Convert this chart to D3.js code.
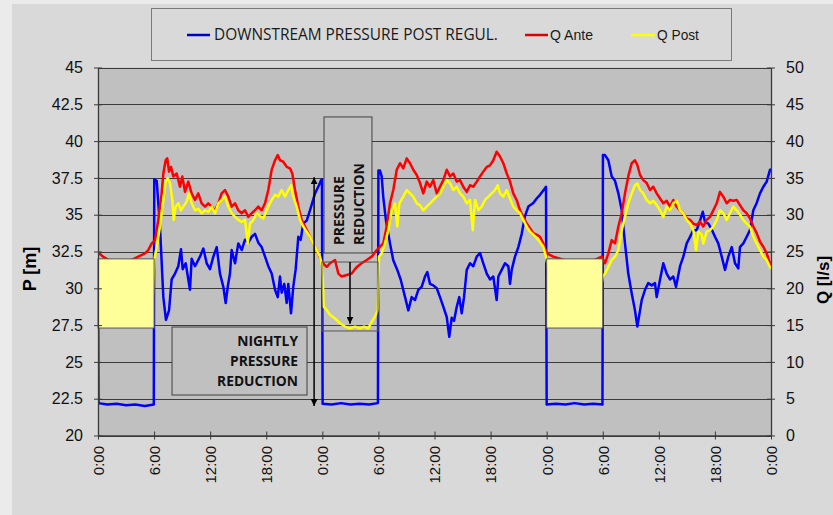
<!DOCTYPE html>
<html><head><meta charset="utf-8">
<script src="https://cdn.jsdelivr.net/npm/d3@7"></script>
<style>body{margin:0;background:#ebebeb;}svg{display:block;}</style>
</head><body>
<svg id="chart" width="833" height="515"></svg>
<script>
// ---------------- DATA ----------------
const xTickHours = [0,6,12,18,24,30,36,42,48,54,60,66,72];
const xTickLabels = ["0:00","6:00","12:00","18:00","0:00","6:00","12:00","18:00","0:00","6:00","12:00","18:00","0:00"];
const leftTicks = [20,22.5,25,27.5,30,32.5,35,37.5,40,42.5,45];
const rightTicks = [0,5,10,15,20,25,30,35,40,45,50];
const seriesNames = ["DOWNSTREAM PRESSURE POST REGUL.","Q Ante","Q Post"];
// [hour, P m]
const pressure = [[0,31.5],[0.05,22.2],[1,22.1],[2,22.15],[3,22.05],[4,22.1],[5,22.0],[5.97,22.1],
[6.02,37.4],[6.28,37.3],[6.63,34.2],[6.99,29.4],[7.27,27.85],[7.60,28.5],[7.88,30.6],[8.24,31.0],[8.59,31.5],[8.88,32.65],[9.06,31.3],[9.38,31.7],[9.84,29.9],[10.02,32.0],[10.38,31.5],[10.91,32.15],[11.27,32.7],[11.63,31.7],[11.98,31.3],[12.34,32.15],[12.70,32.8],[13.05,31.0],[13.41,30.1],[13.66,29.0],[13.88,30.1],[14.12,31.0],[14.30,32.6],[14.66,31.7],[15.01,33.05],[15.37,32.6],[15.73,33.3],[16.08,33.1],[16.44,33.5],[16.80,33.7],[17.15,33.1],[17.51,32.8],[17.87,32.15],[18.22,31.5],[18.58,31.0],[18.94,29.9],[19.23,29.4],[19.47,30.8],[19.65,29.7],[19.93,30.3],[20.19,29.0],[20.36,30.3],[20.65,28.3],[20.89,30.1],[21.15,31.3],[21.43,33.5],[21.68,33.3],[21.96,34.4],[22.33,34.6],[22.68,35.3],[23.22,36.45],[23.64,37.0],[23.86,37.35],[23.96,37.4],
[24.03,22.15],[25,22.1],[26,22.2],[27,22.1],[28,22.15],[29,22.1],[29.95,22.2],
[30.0,38.0],[30.17,38.0],[30.35,37.6],[30.52,36.2],[30.81,34.6],[31.24,33.05],[31.59,31.9],[32.02,31.25],[32.38,30.6],[32.85,29.4],[33.20,28.5],[33.56,29.4],[33.91,29.2],[34.27,29.9],[34.63,30.1],[34.98,30.8],[35.23,31.1],[35.52,30.3],[35.87,30.2],[36.24,30.0],[36.59,29.4],[36.94,28.75],[37.31,28.05],[37.58,26.7],[37.84,28.0],[38.09,27.8],[38.38,28.75],[38.65,29.4],[38.91,28.3],[39.16,29.4],[39.45,31.25],[39.80,31.7],[40.15,31.5],[40.52,32.15],[40.87,32.4],[41.22,31.7],[41.59,31.0],[41.94,30.6],[42.29,30.8],[42.65,29.2],[42.83,30.8],[43.19,31.25],[43.54,31.7],[43.90,31.5],[44.08,30.3],[44.26,31.25],[44.61,32.15],[44.97,32.8],[45.33,33.7],[45.68,34.9],[46.04,35.55],[46.57,35.8],[46.93,36.1],[47.29,36.35],[47.82,36.8],[47.93,36.9],
[48.0,22.1],[49,22.15],[50,22.1],[51,22.2],[52,22.1],[53,22.15],[53.97,22.1],
[54.02,39.05],[54.24,39.05],[54.60,38.7],[54.96,37.6],[55.31,37.3],[55.67,36.45],[56.03,35.3],[56.38,33.05],[56.73,31.0],[57.10,29.65],[57.45,28.5],[57.70,27.4],[57.99,28.5],[58.17,29.2],[58.52,29.9],[58.87,30.35],[59.24,30.2],[59.59,30.35],[59.77,29.4],[60.13,30.6],[60.48,31.7],[60.84,31.0],[61.19,30.6],[61.55,30.8],[61.84,30.1],[62.27,31.5],[62.62,32.15],[62.98,33.05],[63.34,33.5],[63.69,33.95],[64.05,33.95],[64.41,34.6],[64.70,35.2],[64.94,34.5],[65.30,34.4],[65.66,34.0],[66.01,33.5],[66.36,33.05],[66.73,32.15],[67.08,31.25],[67.43,32.15],[67.80,32.8],[68.15,31.7],[68.50,31.35],[68.68,32.8],[69.04,33.05],[69.40,33.5],[69.75,33.95],[70.11,35.3],[70.47,35.8],[70.82,36.45],[71.18,36.9],[71.54,37.25],[71.89,38.04],[72,38.1]];
// [hour, Q l/s]
const qAnte = [[0,24.9],[0.27,24.6],[0.53,24.3],[1.5,23.6],[3,23.5],[4.31,24.3],[5.03,24.75],[5.38,25.2],[5.75,26.1],[6.10,26.55],[6.45,29.3],[6.81,32.9],[6.99,35.6],[7.24,37.4],[7.41,37.65],[7.60,35.85],[7.81,36.5],[8.06,35.2],[8.42,35.6],[8.77,33.8],[9.02,35.2],[9.31,33.1],[9.66,34.5],[10.02,32.9],[10.38,32.0],[10.73,32.9],[11.09,31.55],[11.45,31.1],[11.80,31.55],[12.16,31.1],[12.52,30.6],[12.87,31.55],[13.23,32.9],[13.59,33.35],[13.94,32.45],[14.30,31.1],[14.66,31.55],[15.01,30.6],[15.37,30.2],[15.73,30.6],[16.08,29.7],[16.44,30.2],[16.80,30.6],[17.15,31.1],[17.51,30.6],[17.87,31.55],[18.22,33.35],[18.58,36.1],[18.94,37.4],[19.23,38.1],[19.47,37.4],[19.82,37.2],[20.19,36.5],[20.54,36.3],[20.79,35.6],[21.08,33.35],[21.43,31.1],[21.79,29.3],[22.15,28.4],[22.50,27.5],[22.86,26.55],[23.22,25.65],[23.57,24.75],[23.93,23.6],[24.47,22.9],[24.82,23.4],[25.36,23.85],[25.71,22.0],[26.07,21.6],[26.61,21.8],[27.14,22.0],[27.68,22.9],[28.21,23.4],[28.75,23.85],[29.28,24.3],[29.82,25.2],[30.17,25.65],[30.52,26.1],[30.89,28.4],[31.24,31.55],[31.59,33.35],[31.96,36.1],[32.31,37.0],[32.66,36.3],[33.03,37.65],[33.38,37.0],[33.73,36.1],[34.10,35.4],[34.45,34.3],[34.80,32.9],[35.17,34.5],[35.52,33.8],[35.87,34.7],[36.24,32.9],[36.59,33.8],[36.94,34.7],[37.31,36.1],[37.66,35.2],[38.01,35.6],[38.38,34.5],[38.73,34.7],[39.08,33.8],[39.45,33.1],[39.80,34.0],[40.15,33.8],[40.52,34.5],[40.87,35.2],[41.22,35.85],[41.59,36.5],[41.94,36.7],[42.29,37.4],[42.65,38.55],[43.01,37.9],[43.36,37.0],[43.73,35.6],[44.08,34.5],[44.43,32.9],[44.79,32.0],[45.15,30.6],[45.50,29.7],[45.86,28.8],[46.22,28.15],[46.57,27.5],[46.93,27.3],[47.29,27.0],[47.64,26.1],[48.01,24.75],[48.71,24.3],[49.25,24.1],[50.5,23.6],[52.5,23.5],[53.89,24.3],[54.24,23.4],[54.60,24.75],[54.96,26.55],[55.31,26.1],[55.67,28.4],[56.03,30.2],[56.38,32.9],[56.73,35.2],[57.10,37.0],[57.45,37.4],[57.70,36.75],[57.99,35.4],[58.34,34.7],[58.70,34.3],[59.06,33.35],[59.41,33.8],[59.77,32.9],[60.13,32.2],[60.48,31.55],[60.84,31.9],[61.19,31.1],[61.55,32.0],[61.91,31.1],[62.27,30.6],[62.62,30.2],[62.98,29.5],[63.34,29.3],[63.69,28.8],[64.05,28.6],[64.41,29.05],[64.76,28.4],[65.12,29.3],[65.48,29.7],[65.83,30.6],[66.19,31.55],[66.54,33.1],[66.90,32.45],[67.26,31.55],[67.61,32.0],[67.97,31.9],[68.33,32.0],[68.68,31.3],[69.04,30.6],[69.40,30.2],[69.75,29.5],[70.11,28.4],[70.47,27.5],[70.82,26.35],[71.18,25.65],[71.54,24.75],[71.89,23.4],[72,23.2]];
const qPost = [[0,19.5],[0.5,18.0],[1.5,16.5],[3,15.3],[4.5,15.4],[5.8,16.8],[6.02,23.85],[6.28,25.65],[6.63,28.4],[6.99,32.0],[7.24,34.5],[7.46,34.95],[7.70,34.3],[7.95,32.0],[8.10,29.3],[8.31,31.1],[8.59,31.55],[8.88,30.6],[9.13,31.1],[9.49,31.8],[9.74,32.9],[10.02,31.55],[10.38,30.6],[10.73,30.8],[11.09,30.2],[11.45,30.6],[11.80,30.4],[12.16,31.1],[12.52,30.2],[12.87,31.55],[13.23,32.0],[13.59,32.45],[13.94,31.1],[14.30,30.2],[14.66,29.7],[15.01,29.3],[15.37,29.0],[15.73,29.3],[16.02,26.1],[16.26,28.8],[16.62,29.3],[16.98,30.2],[17.33,29.8],[17.69,29.5],[18.22,31.1],[18.58,32.0],[18.94,32.7],[19.29,32.45],[19.65,33.35],[20.01,32.45],[20.36,33.35],[20.65,34.0],[20.89,32.45],[21.26,31.1],[21.61,29.3],[21.96,28.4],[22.33,27.7],[22.68,27.0],[23.03,26.1],[23.40,25.2],[23.75,24.3],[24.00,22.9],[24.15,17.5],[24.47,17.05],[24.82,16.4],[25.36,15.9],[25.89,15.25],[26.43,14.8],[26.96,14.55],[27.50,14.8],[28.03,14.55],[28.46,14.8],[28.92,14.55],[29.28,15.45],[29.63,16.15],[29.92,17.05],[30.06,24.3],[30.35,24.75],[30.70,26.1],[31.06,27.9],[31.42,30.6],[31.78,31.55],[32.02,28.4],[32.24,31.55],[32.66,32.45],[33.03,33.35],[33.38,32.9],[33.73,32.45],[34.10,31.55],[34.45,31.3],[34.80,30.6],[35.17,31.1],[35.52,31.55],[35.87,32.0],[36.24,32.45],[36.59,32.9],[36.94,33.8],[37.31,34.7],[37.66,34.25],[38.01,33.35],[38.38,33.8],[38.73,32.9],[39.08,32.45],[39.45,31.55],[39.80,32.0],[40.09,27.9],[40.34,32.0],[40.70,30.6],[41.05,31.1],[41.41,32.0],[41.77,32.45],[42.12,32.9],[42.47,33.35],[42.76,34.0],[43.01,32.9],[43.36,32.45],[43.73,33.35],[44.08,32.2],[44.43,31.1],[44.79,30.6],[45.15,30.2],[45.50,29.3],[45.86,28.4],[46.22,27.7],[46.57,27.3],[46.93,26.8],[47.29,26.3],[47.64,25.65],[47.93,24.3],[48.5,20.5],[49.5,18.5],[51,17.0],[52.5,17.5],[53.8,20.0],[54.00,21.6],[54.24,22.0],[54.60,22.9],[54.96,23.85],[55.31,24.3],[55.67,25.2],[56.03,27.9],[56.38,29.7],[56.73,31.55],[57.10,32.9],[57.45,34.0],[57.70,34.25],[57.99,33.35],[58.34,32.9],[58.70,32.0],[59.06,31.55],[59.41,31.9],[59.77,31.3],[60.13,30.6],[60.48,29.7],[60.84,31.1],[61.19,30.6],[61.55,31.55],[61.91,31.9],[62.27,30.6],[62.62,30.2],[62.98,29.3],[63.34,28.8],[63.69,27.9],[63.98,25.2],[64.23,27.7],[64.59,27.3],[64.76,26.1],[65.12,27.7],[65.48,27.9],[65.83,28.4],[66.19,29.3],[66.54,30.6],[66.90,30.2],[67.26,29.3],[67.61,30.2],[67.97,31.1],[68.33,30.6],[68.68,30.0],[69.04,29.3],[69.40,28.8],[69.75,28.4],[70.11,27.0],[70.47,26.1],[70.82,25.2],[71.18,24.3],[71.54,23.85],[71.89,22.9],[72,22.6]];
// night windows [startHour, endHour] highlighted, P range [low, high]
const nightBoxes = [[0,6],[48,54]];
const nightBoxP = [27.3,32.0];

// ---------------- LAYOUT ----------------
const svg = d3.select("#chart");
const L = 98, R = 771, T = 67.5, B = 435.5;
const x = d3.scaleLinear().domain([0,72]).range([L,R]);
const yL = d3.scaleLinear().domain([20,45]).range([B,T]);
const yR = d3.scaleLinear().domain([0,50]).range([B,T]);
const axisColor = "#3a3a3a";
const tickFont = "'Liberation Sans', Arial, sans-serif";

svg.append("rect").attr("x",12).attr("y",4).attr("width",821).attr("height",511).attr("fill","#d9d9d9");
svg.append("rect").attr("x",L).attr("y",T).attr("width",R-L).attr("height",B-T).attr("fill","#c0c0c0");

// gridlines
svg.append("g").selectAll("line").data(leftTicks).join("line")
  .attr("x1",L).attr("x2",R)
  .attr("y1",d=>Math.round(yL(d))+0.5).attr("y2",d=>Math.round(yL(d))+0.5)
  .attr("stroke","#3c3c3c").attr("stroke-width",1);

// clip
svg.append("clipPath").attr("id","plotclip").append("rect")
  .attr("x",L).attr("y",T).attr("width",R-L).attr("height",B-T);

const lineP = d3.line().x(d=>x(d[0])).y(d=>yL(d[1]));
const lineQ = d3.line().x(d=>x(d[0])).y(d=>yR(d[1]));
const gLines = svg.append("g").attr("clip-path","url(#plotclip)");
gLines.append("path").attr("d",lineP(pressure)).attr("fill","none").attr("stroke","#0000ff").attr("stroke-width",2.5).attr("stroke-linejoin","round");
gLines.append("path").attr("d",lineQ(qAnte)).attr("fill","none").attr("stroke","#ff0000").attr("stroke-width",2.5).attr("stroke-linejoin","round");
gLines.append("path").attr("d",lineQ(qPost)).attr("fill","none").attr("stroke","#ffff00").attr("stroke-width",2.5).attr("stroke-linejoin","round");

// night boxes
svg.append("g").selectAll("rect").data(nightBoxes).join("rect")
  .attr("x",d=>x(d[0])).attr("width",d=>x(d[1])-x(d[0]))
  .attr("y",yL(nightBoxP[1])).attr("height",yL(nightBoxP[0])-yL(nightBoxP[1]))
  .attr("fill","#ffff99").attr("stroke","#555").attr("stroke-width",1);
// outline of reduced-flow window (day 2)
svg.append("rect").attr("x",x(23.96)).attr("width",x(29.96)-x(23.96))
  .attr("y",yR(23.57)).attr("height",yR(14.2)-yR(23.57))
  .attr("fill","none").attr("stroke","#555").attr("stroke-width",1);

// axes
const gx = svg.append("g").attr("transform",`translate(0,${B})`)
  .call(d3.axisBottom(x).tickValues(xTickHours).tickFormat((d,i)=>xTickLabels[i]).tickSize(4).tickSizeOuter(0));
gx.select(".domain").attr("stroke",axisColor).attr("stroke-width",1.3);
gx.selectAll(".tick line").attr("y1",-4).attr("y2",4).attr("stroke",axisColor);
gx.selectAll(".tick text").attr("transform","rotate(-90)").attr("x",-10.5).attr("y",0).attr("dy","0.36em")
  .attr("text-anchor","end").attr("font-family",tickFont).attr("font-size",15).attr("fill","#111");

const gl = svg.append("g").attr("transform",`translate(${L},0)`)
  .call(d3.axisLeft(yL).tickValues(leftTicks).tickFormat(d3.format("")).tickSize(4).tickSizeOuter(0).tickPadding(11));
gl.select(".domain").attr("stroke",axisColor).attr("stroke-width",1.3);
gl.selectAll(".tick line").attr("x1",-4).attr("x2",4).attr("stroke",axisColor);
gl.selectAll(".tick text").attr("font-family",tickFont).attr("font-size",16).attr("fill","#111");

const gr = svg.append("g").attr("transform",`translate(${R},0)`)
  .call(d3.axisRight(yR).tickValues(rightTicks).tickSize(4).tickSizeOuter(0).tickPadding(11));
gr.select(".domain").attr("stroke",axisColor).attr("stroke-width",1.3);
gr.selectAll(".tick line").attr("x1",-4).attr("x2",4).attr("stroke",axisColor);
gr.selectAll(".tick text").attr("font-family",tickFont).attr("font-size",16).attr("fill","#111");

// axis titles
svg.append("text").attr("transform",`translate(36,${269}) rotate(-90)`).attr("text-anchor","middle")
  .attr("font-family",tickFont).attr("font-weight","bold").attr("font-size",18).text("P [m]");
svg.append("text").attr("transform",`translate(829,${280}) rotate(-90)`).attr("text-anchor","middle")
  .attr("font-family",tickFont).attr("font-weight","bold").attr("font-size",17).text("Q [l/s]");

function fit(sel, target){
  const w = sel.node().getComputedTextLength();
  const fs = parseFloat(sel.attr("font-size"));
  sel.attr("font-size", fs*target/w);
  return fs*target/w;
}

// legend
svg.append("rect").attr("x",151.5).attr("y",8.5).attr("width",580).attr("height",52)
  .attr("fill","#d9d9d9").attr("stroke","#7a7a7a").attr("stroke-width",1);
const legY = 35;
const legend = [
  {x1:187,x2:210,tx:214,color:"#0000cc",font:"'Open Sans', sans-serif",w:284},
  {x1:525,x2:548,tx:550,color:"#e00000",font:tickFont,w:43},
  {x1:631,x2:655,tx:657,color:"#ffff00",font:tickFont,w:42}
];
legend.forEach((l,i)=>{
  svg.append("line").attr("x1",l.x1).attr("x2",l.x2).attr("y1",legY).attr("y2",legY)
    .attr("stroke",l.color).attr("stroke-width",2.5);
  const t = svg.append("text").attr("x",l.tx).attr("y",legY).attr("dy","0.35em")
    .attr("font-family",l.font).attr("font-size",14).attr("fill","#1a1a1a").text(seriesNames[i]);
  fit(t,l.w);
});

// annotations
const defs = svg.append("defs");
defs.append("marker").attr("id","ah").attr("viewBox","0 0 10 10").attr("refX",10).attr("refY",5)
  .attr("markerWidth",7).attr("markerHeight",7).attr("markerUnits","userSpaceOnUse")
  .attr("orient","auto-start-reverse")
  .append("path").attr("d","M0,0 L10,5 L0,10 z").attr("fill","#000");

// nightly pressure reduction box
const nb = {x0:x(7.92), x1:x(22.36), y0:yL(27.37), y1:yL(22.75)};
svg.append("rect").attr("x",nb.x0).attr("y",nb.y0).attr("width",nb.x1-nb.x0).attr("height",nb.y1-nb.y0)
  .attr("fill","#c0c0c0").attr("stroke","#404040").attr("stroke-width",1);
const nLines = ["NIGHTLY","PRESSURE","REDUCTION"];
const nt = nLines.map((s,i)=>svg.append("text").attr("x",nb.x1-9).attr("y",346+i*20)
  .attr("text-anchor","end").attr("font-family","'Open Sans', sans-serif").attr("font-weight","bold")
  .attr("font-size",14).attr("fill","#111").text(s));
const nfs = fit(nt[2],81); nt.forEach(t=>t.attr("font-size",nfs));

// double arrow
svg.append("line").attr("x1",x(23.12)).attr("x2",x(23.12)).attr("y1",yL(37.55)).attr("y2",yL(22.0))
  .attr("stroke","#000").attr("stroke-width",1.5).attr("marker-start","url(#ah)").attr("marker-end","url(#ah)");

// pressure reduction box
const pb = {x0:x(24.18), x1:x(29.31), y0:yL(41.64), y1:yL(32.4)};
svg.append("rect").attr("x",pb.x0).attr("y",pb.y0).attr("width",pb.x1-pb.x0).attr("height",pb.y1-pb.y0)
  .attr("fill","#c0c0c0").attr("stroke","#404040").attr("stroke-width",1);
const pt = ["PRESSURE","REDUCTION"].map((s,i)=>svg.append("text")
  .attr("transform",`translate(${344+i*19.5},245) rotate(-90)`).attr("text-anchor","start")
  .attr("font-family","'Open Sans', sans-serif").attr("font-weight","bold").attr("font-size",14).attr("fill","#111").text(s));
const pfs = fit(pt[1],82); pt.forEach(t=>t.attr("font-size",pfs));

// small arrow
svg.append("line").attr("x1",x(26.96)).attr("x2",x(26.96)).attr("y1",yR(23.57)).attr("y2",yR(15.2))
  .attr("stroke","#000").attr("stroke-width",1.5).attr("marker-end","url(#ah)");
</script>
</body></html>
